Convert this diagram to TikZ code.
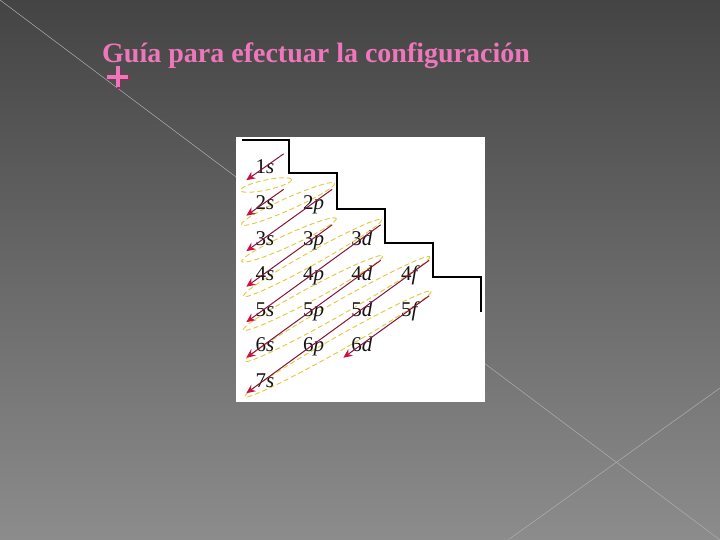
\documentclass[tikz,border=0pt]{standalone}
\usepackage{fontspec}
\newfontfamily\titlefont{Liberation Serif}
\usepackage{tikz}
\usetikzlibrary{arrows.meta,positioning,calc}

\definecolor{titlepink}{RGB}{238,118,186}
\definecolor{plusshadow}{RGB}{150,40,90}
\definecolor{bgtop}{RGB}{68,68,68}
\definecolor{bgbottom}{RGB}{140,140,140}
\definecolor{bgline}{RGB}{175,175,175}
\definecolor{arrowline}{RGB}{135,18,58}
\definecolor{tipred}{RGB}{205,16,62}
\definecolor{ringyellow}{RGB}{226,200,60}
\definecolor{labelgrey}{RGB}{20,20,20}

\begin{document}
\begin{tikzpicture}[x=1pt, y=-1pt,
    orb/.style={font=\titlefont\fontsize{21}{21}\selectfont, text=labelgrey, inner sep=0pt,
                text height=20pt, text depth=6pt, minimum width=37pt},
    arr/.style={draw=arrowline, line width=1pt, -{Stealth[length=9pt,width=8pt,color=tipred]}},
    ring/.style={draw=ringyellow, line width=0.9pt, dash pattern=on 5pt off 3pt}]
    \useasboundingbox (0,0) rectangle (720,540);

    % Background
    \fill[top color=bgtop, bottom color=bgbottom] (0,0) rectangle (720,540);
    \draw[bgline, line width=0.5pt] (0,0) -- (720,540);
    \draw[bgline, line width=0.5pt] (508,540) -- (720,388);

    % Title and bullet
    \node[anchor=base west, text=titlepink, font=\titlefont\bfseries\fontsize{28}{28}\selectfont, inner sep=0pt] (title) at (102,63) {Guía para efectuar la configuración};
    \draw[plusshadow, line width=4pt] (108.5,78.5) -- (129.5,78.5) (119,68) -- (119,89);
    \draw[titlepink, line width=4pt] (107,77) -- (128,77) (117.5,66.5) -- (117.5,87.5);

    % Picture
    \fill[white] (236,137) rectangle (485,402);
    \draw[black, line width=1.2pt] (242,140) -- (289,140) -- (289,173) -- (337,173) -- (337,209)
        -- (385,209) -- (385,243) -- (433,243) -- (433,277) -- (481,277) -- (481,312);

    % Dashed rings
    \draw[ring, rotate around={12:(266,185)}] (266,185) ellipse (26 and 5);
    \draw[ring, rotate around={24:(288,204)}] (288,204) ellipse (51 and 6);
    \draw[ring, rotate around={24.5:(289,240)}] (289,240) ellipse (52 and 6);
    \draw[ring, rotate around={29:(312.5,258)}] (312.5,258) ellipse (79 and 6.5);
    \draw[ring, rotate around={28:(313,293)}] (313,293) ellipse (79 and 6.5);
    \draw[ring, rotate around={29.5:(337.5,309)}] (337.5,309) ellipse (106 and 7);
    \draw[ring, rotate around={29.5:(338,344)}] (338,344) ellipse (107 and 7);

    % Orbitals
    \node[orb] (n1s) at (265,167) {1\textit{s}};
    \node[orb] (n2s) at (265,202.5) {2\textit{s}};
    \node[orb] (n2p) at (313.5,202.5) {2\textit{p}};
    \node[orb] (n3s) at (265,238) {3\textit{s}};
    \node[orb] (n3p) at (313.5,238) {3\textit{p}};
    \node[orb] (n3d) at (362,238) {3\textit{d}};
    \node[orb] (n4s) at (265,273.5) {4\textit{s}};
    \node[orb] (n4p) at (313.5,273.5) {4\textit{p}};
    \node[orb] (n4d) at (362,273.5) {4\textit{d}};
    \node[orb] (n4f) at (410.5,273.5) {4\textit{f}};
    \node[orb] (n5s) at (265,309) {5\textit{s}};
    \node[orb] (n5p) at (313.5,309) {5\textit{p}};
    \node[orb] (n5d) at (362,309) {5\textit{d}};
    \node[orb] (n5f) at (410.5,309) {5\textit{f}};
    \node[orb] (n6s) at (265,344.5) {6\textit{s}};
    \node[orb] (n6p) at (313.5,344.5) {6\textit{p}};
    \node[orb] (n6d) at (362,344.5) {6\textit{d}};
    \node[orb] (n7s) at (265,380) {7\textit{s}};

    % Filling order
    \draw[arr] (n1s.north east) -- (n1s.south west);
    \draw[arr] (n2s.north east) -- (n2s.south west);
    \draw[arr] (n2p.north east) -- (n3s.south west);
    \draw[arr] (n3p.north east) -- (n4s.south west);
    \draw[arr] (n3d.north east) -- (n5s.south west);
    \draw[arr] (n4d.north east) -- (n6s.south west);
    \draw[arr] (n4f.north east) -- (n7s.south west);
    \draw[arr] (n5f.north east) -- (n6d.south west);
\end{tikzpicture}
\end{document}
